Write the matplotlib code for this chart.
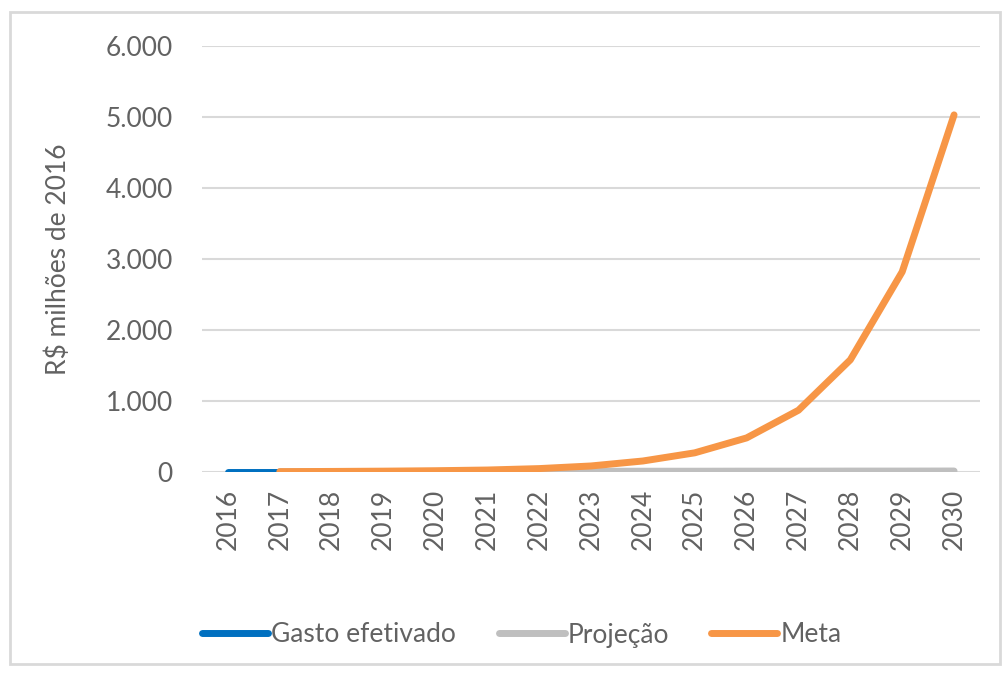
import matplotlib
matplotlib.use("Agg")
import matplotlib.pyplot as plt
from matplotlib.patches import Rectangle

years = ["2016", "2017", "2018", "2019", "2020", "2021", "2022", "2023",
         "2024", "2025", "2026", "2027", "2028", "2029", "2030"]
gasto_efetivado = [5, 5, None, None, None, None, None, None, None, None, None, None, None, None, None]
projecao = [None, 5, 6, 7, 8, 9, 10, 10, 11, 11, 12, 12, 13, 13, 14]
meta = [None, 5, 8, 12, 18, 28, 48, 85, 155, 270, 480, 870, 1580, 2820, 5030]
yticks = [0, 1000, 2000, 3000, 4000, 5000, 6000]
ytick_labels = ["0", "1.000", "2.000", "3.000", "4.000", "5.000", "6.000"]

plt.rcParams['font.family'] = ['Lato', 'DejaVu Sans']
txt = "#626262"
fs = 19

fig = plt.figure(figsize=(10.06, 6.75), dpi=100)
ax = fig.add_axes([202/1006, 1-472/675, (980-202)/1006, (472-46)/675])

x = list(range(len(years)))
def pts(vals):
    xs = [i for i, v in zip(x, vals) if v is not None]
    ys = [v for v in vals if v is not None]
    return xs, ys

for vals, col, lab in [(projecao, "#BFBFBF", "Projeção"),
                       (gasto_efetivado, "#0070C0", "Gasto efetivado"),
                       (meta, "#F79646", "Meta")]:
    xs, ys = pts(vals)
    ax.plot(xs, ys, color=col, lw=5, solid_capstyle="round",
            solid_joinstyle="round", label=lab, zorder=3)

ax.set_xlim(-0.5, len(years) - 0.5)
ax.set_ylim(0, 6000)
ax.set_yticks(yticks)
ax.set_yticklabels(ytick_labels, fontsize=fs, color=txt)
ax.set_xticks(x)
ax.set_xticklabels(years, rotation=90, fontsize=fs, color=txt)
ax.tick_params(axis="both", length=0)
ax.tick_params(axis="y", pad=21)
ax.tick_params(axis="x", pad=12)
ax.grid(axis="y", color="#D9D9D9", lw=1.5, zorder=0)
for s in ax.spines.values():
    s.set_visible(False)
ax.set_ylabel("R$ milhões de 2016", fontsize=fs, color=txt, labelpad=25)

handles, labels = ax.get_legend_handles_labels()
order = [1, 0, 2]
leg = fig.legend([handles[i] for i in order], [labels[i] for i in order],
                 loc="center", bbox_to_anchor=(522/1006, 1-635/675), ncol=3,
                 frameon=False, fontsize=fs, handlelength=2.5, handletextpad=0.12,
                 columnspacing=1.6)
for t in leg.get_texts():
    t.set_color(txt)

fig.patches.append(Rectangle((10/1006, 1-664/675), 990/1006, 652/675,
                             transform=fig.transFigure, fill=False,
                             edgecolor="#D9D9D9", lw=2))

fig.savefig("out.png", dpi=100, facecolor="white")
